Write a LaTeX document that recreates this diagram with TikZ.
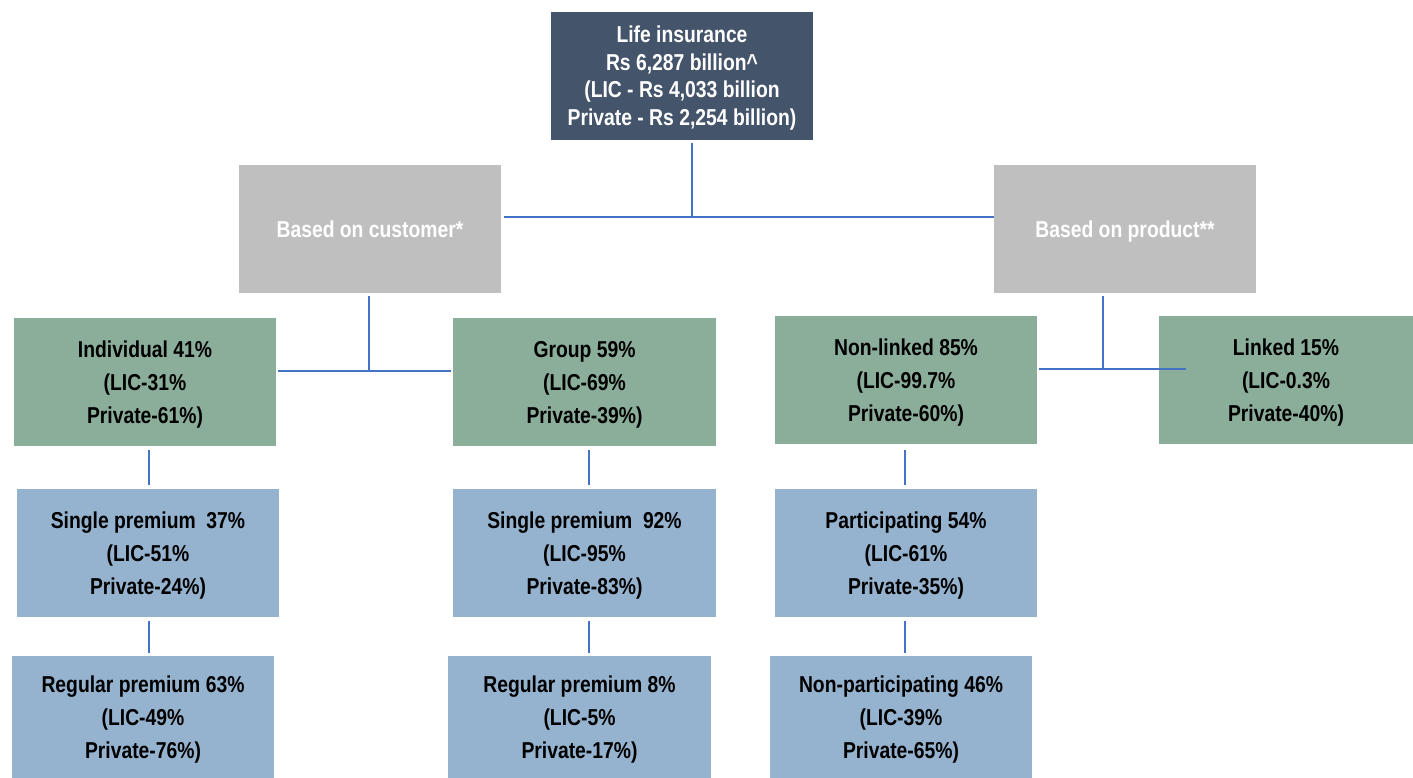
\documentclass[tikz,border=0pt]{standalone}
\usepackage{fontspec}
\setmainfont{Liberation Sans}[FakeStretch=0.84]
% strut that evens out the first and last line of every box
\newcommand{\vstrut}{\rule[-5.1pt]{0pt}{26.6pt}}
\begin{document}
\begin{tikzpicture}[x=1pt,y=-1pt,
  box/.style={rectangle, inner sep=0pt, align=center, font=\bfseries\fontsize{23}{33}\selectfont},
  topbox/.style={box, fill=topfill, text=white, minimum width=262pt, minimum height=128pt, font=\bfseries\fontsize{23}{27.5}\selectfont},
  catbox/.style={box, fill=catfill, text=white, minimum width=262pt, minimum height=128pt},
  greenbox/.style={box, fill=greenfill, text=black, minimum width=262pt, minimum height=128pt},
  bluebox/.style={box, fill=bluefill, text=black, minimum width=262pt, minimum height=128pt},
  link/.style={draw=linkblue, line width=1.8pt}
]
\definecolor{topfill}{HTML}{44546A}
\definecolor{catfill}{HTML}{BFBFBF}
\definecolor{greenfill}{HTML}{8BAE9B}
\definecolor{bluefill}{HTML}{95B3CF}
\definecolor{linkblue}{HTML}{4472C4}
\useasboundingbox (0,0) rectangle (1413,778);

% root
\node[topbox] (life) at (682,76) {\vstrut Life insurance\\Rs 6,287 billion\textasciicircum\\(LIC - Rs 4,033 billion\\Private - Rs 2,254 billion)\vstrut};

% categories
\node[catbox] (cust) at (370,229) {\vstrut Based on customer*};
\node[catbox] (prod) at (1125,229) {\vstrut Based on product**};

% second level
\node[greenbox] (indiv) at (145,382) {\vstrut Individual 41\%\\(LIC-31\%\\Private-61\%)\vstrut};
\node[greenbox, minimum width=263pt] (group) at (584.5,382) {\vstrut Group 59\%\\(LIC-69\%\\Private-39\%)\vstrut};
\node[greenbox] (nonlinked) at (906,380) {\vstrut Non-linked 85\%\\(LIC-99.7\%\\Private-60\%)\vstrut};
\node[greenbox, minimum width=254pt] (linked) at (1286,380) {\vstrut Linked 15\%\\(LIC-0.3\%\\Private-40\%)\vstrut};

% premium / participation level
\node[bluebox] (single1) at (148,553) {\vstrut Single premium\ \ 37\%\\(LIC-51\%\\Private-24\%)\vstrut};
\node[bluebox, minimum width=263pt] (single2) at (584.5,553) {\vstrut Single premium\ \ 92\%\\(LIC-95\%\\Private-83\%)\vstrut};
\node[bluebox] (part) at (906,553) {\vstrut Participating 54\%\\(LIC-61\%\\Private-35\%)\vstrut};

\node[bluebox, minimum height=122pt] (regular1) at (143,717) {\vstrut Regular premium\ 63\%\\(LIC-49\%\\Private-76\%)\vstrut};
\node[bluebox, minimum width=263pt, minimum height=122pt] (regular2) at (579.5,717) {\vstrut Regular premium\ 8\%\\(LIC-5\%\\Private-17\%)\vstrut};
\node[bluebox, minimum height=122pt] (nonpart) at (901,717) {\vstrut Non-participating 46\%\\(LIC-39\%\\Private-65\%)\vstrut};

% connectors: root to categories
\coordinate (rootjoin) at (692,217);
\draw[link] (692,143) -- (rootjoin);
\draw[link] (cust.east |- rootjoin) ++(3,0) -- (prod.west |- rootjoin);

% customer branch
\coordinate (custjoin) at (369,371);
\draw[link] (369,296) -- (custjoin);
\draw[link] (indiv.east |- custjoin) ++(2,0) -- ([xshift=-2pt]group.west |- custjoin);

% product branch
\coordinate (prodjoin) at (1103,369);
\coordinate (prodend) at (1186,369);
\draw[link] (1103,296) -- (prodjoin);
\draw[link] (nonlinked.east |- prodjoin) ++(2,0) -- (prodend);

% vertical links down each column
\draw[link] (149,450) -- (149,485);
\draw[link] (149,621) -- (149,653);
\draw[link] (589,450) -- (589,485);
\draw[link] (589,621) -- (589,653);
\draw[link] (905,450) -- (905,485);
\draw[link] (905,621) -- (905,653);
\end{tikzpicture}
\end{document}
